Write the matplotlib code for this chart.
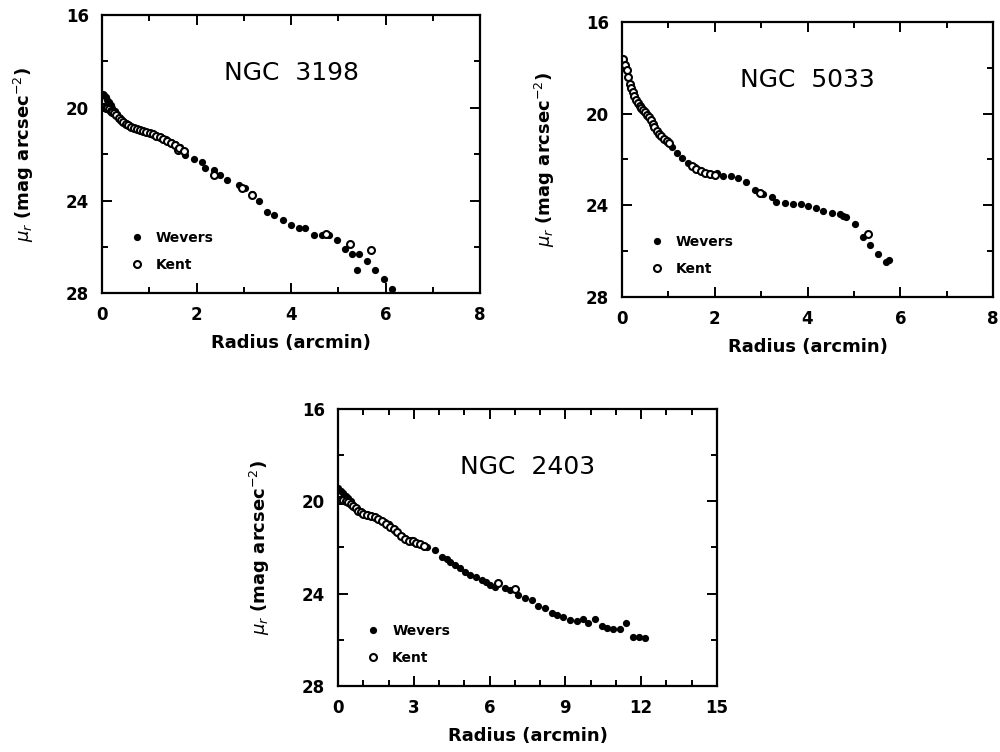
import matplotlib
matplotlib.use("Agg")
import matplotlib.pyplot as plt
from matplotlib.ticker import MultipleLocator

# NGC 3198 surface brightness profile (radius in arcmin, mu_r in mag/arcsec^2)
r_wev_3198 = [0.02, 0.05, 0.08, 0.11, 0.14, 0.18, 0.22, 0.27, 0.32, 0.38,
              0.44, 0.50, 0.57, 0.64, 0.72, 0.80, 0.88, 0.96, 1.05, 1.15,
              1.25, 1.35, 1.45, 1.55, 1.65, 1.76, 1.94, 2.12, 2.19, 2.36,
              2.50, 2.65, 2.89, 3.03, 3.17, 3.32, 3.49, 3.63, 3.84, 3.99,
              4.16, 4.30, 4.48, 4.66, 4.80, 4.97, 5.15, 5.29, 5.40, 5.43,
              5.60, 5.78, 5.96, 6.14]
mu_wev_3198 = [19.4, 19.45, 19.55, 19.65, 19.75, 19.88, 20.0, 20.15, 20.28, 20.42,
               20.55, 20.65, 20.74, 20.82, 20.88, 20.94, 20.98, 21.03, 21.1, 21.18,
               21.27, 21.36, 21.46, 21.56, 21.7, 22.04, 22.23, 22.33, 22.6, 22.7,
               22.9, 23.1, 23.34, 23.48, 23.7, 24.0, 24.5, 24.63, 24.85, 25.06,
               25.2, 25.2, 25.5, 25.5, 25.5, 25.7, 26.07, 26.3, 27.0, 26.3,
               26.6, 27.0, 27.37, 27.8]
r_kent_3198 = [0.02, 0.05, 0.08, 0.11, 0.14, 0.18, 0.22, 0.26, 0.30, 0.35,
               0.40, 0.45, 0.50, 0.56, 0.62, 0.68, 0.74, 0.80, 0.87, 0.94,
               1.01, 1.08, 1.15, 1.22, 1.30, 1.38, 1.46, 1.55, 1.60, 1.64,
               1.74, 2.36, 2.96, 3.17, 4.75, 5.25, 5.69]
mu_kent_3198 = [19.95, 19.97, 20.0, 20.03, 20.07, 20.12, 20.18, 20.24, 20.32, 20.42,
                20.52, 20.6, 20.68, 20.75, 20.82, 20.87, 20.91, 20.95, 21.0, 21.05,
                21.1, 21.15, 21.2, 21.27, 21.35, 21.42, 21.5, 21.6, 21.8, 21.72,
                21.85, 22.9, 23.44, 23.77, 25.45, 25.88, 26.15]

# NGC 5033
r_wev_5033 = [0.02, 0.05, 0.09, 1.07, 1.18, 1.29, 1.43, 1.57, 1.68, 1.85,
              2.04, 2.18, 2.36, 2.51, 2.67, 2.87, 3.05, 3.23, 3.33, 3.51,
              3.69, 3.87, 4.02, 4.18, 4.34, 4.52, 4.70, 4.76, 4.84, 5.02,
              5.19, 5.34, 5.51, 5.69, 5.76]
mu_wev_5033 = [17.6, 17.8, 18.05, 21.44, 21.7, 21.95, 22.16, 22.31, 22.46, 22.6,
               22.6, 22.72, 22.72, 22.82, 22.97, 23.33, 23.5, 23.62, 23.84, 23.88,
               23.94, 23.95, 24.05, 24.13, 24.23, 24.32, 24.38, 24.45, 24.52, 24.8,
               25.37, 25.73, 26.12, 26.46, 26.38]
r_kent_5033 = [0.03, 0.06, 0.10, 0.14, 0.17, 0.20, 0.23, 0.26, 0.30, 0.34,
               0.38, 0.42, 0.46, 0.50, 0.54, 0.58, 0.62, 0.66, 0.70, 0.75,
               0.80, 0.85, 0.90, 0.96, 1.02, 1.50, 1.60, 1.70, 1.80, 1.90,
               2.00, 2.97, 5.31]
mu_kent_5033 = [17.6, 17.9, 18.1, 18.4, 18.7, 18.9, 19.05, 19.25, 19.4, 19.55,
                19.65, 19.75, 19.85, 19.92, 20.05, 20.15, 20.3, 20.45, 20.6, 20.75,
                20.9, 21.0, 21.1, 21.2, 21.3, 22.3, 22.4, 22.5, 22.6, 22.65,
                22.7, 23.45, 25.25]

# NGC 2403
r_wev_2403 = [0.01, 0.1, 0.2, 0.3, 0.4, 0.5, 0.6, 0.7, 0.8, 0.9,
              1.0, 1.15, 1.27, 1.4, 1.53, 1.7, 1.86, 2.0, 2.12, 2.25,
              2.39, 2.52, 2.65, 2.92, 3.18, 3.51, 3.84, 4.1, 4.3, 4.43,
              4.63, 4.83, 5.02, 5.22, 5.45, 5.69, 5.85, 6.01, 6.2, 6.61,
              6.8, 7.13, 7.4, 7.66, 7.93, 8.19, 8.46, 8.66, 8.92, 9.18,
              9.45, 9.68, 9.91, 10.17, 10.44, 10.63, 10.9, 11.16, 11.39, 11.66,
              11.92, 12.15]
mu_wev_2403 = [19.44, 19.55, 19.65, 19.76, 19.87, 20.0, 20.16, 20.27, 20.38, 20.45,
               20.52, 20.57, 20.59, 20.65, 20.74, 20.8, 20.88, 21.0, 21.17, 21.28,
               21.39, 21.5, 21.6, 21.68, 21.82, 21.97, 22.11, 22.4, 22.5, 22.62,
               22.75, 22.9, 23.05, 23.19, 23.3, 23.41, 23.5, 23.63, 23.7, 23.77,
               23.85, 24.06, 24.2, 24.3, 24.54, 24.64, 24.83, 24.93, 25.03, 25.14,
               25.19, 25.09, 25.29, 25.1, 25.39, 25.5, 25.53, 25.55, 25.29, 25.9,
               25.9, 25.94]
r_kent_2403 = [0.02, 0.1, 0.2, 0.3, 0.4, 0.5, 0.6, 0.7, 0.8, 0.9,
               1.0, 1.15, 1.3, 1.45, 1.6, 1.75, 1.9, 2.05, 2.2, 2.35,
               2.5, 2.65, 2.8, 2.95, 3.1, 3.25, 3.4, 6.34, 7.0]
mu_kent_2403 = [19.95, 19.95, 19.95, 19.98, 20.05, 20.12, 20.2, 20.3, 20.4, 20.48,
                20.55, 20.6, 20.63, 20.7, 20.78, 20.87, 20.97, 21.1, 21.2, 21.35,
                21.5, 21.62, 21.7, 21.72, 21.8, 21.87, 21.95, 23.55, 23.8]

plt.rcParams['font.family'] = ['DejaVu Sans']
plt.rcParams['mathtext.fontset'] = 'dejavusans'


def draw_panel(ax, name, r_w, mu_w, r_k, mu_k, xmax, xstep):
    ax.plot(r_w, mu_w, 'o', color='black', ms=5.2, mew=0, label='Wevers')
    ax.plot(r_k, mu_k, 'o', mfc='white', mec='black', ms=5.0, mew=1.5, label='Kent')

    ax.set_xlim(0, xmax)
    ax.set_ylim(28, 16)
    ax.xaxis.set_major_locator(MultipleLocator(xstep))
    ax.xaxis.set_minor_locator(MultipleLocator(1))
    ax.yaxis.set_major_locator(MultipleLocator(4))
    ax.yaxis.set_minor_locator(MultipleLocator(2))
    ax.tick_params(which='both', direction='in', top=True, right=True, width=1.4)
    ax.tick_params(which='major', length=7, pad=9.5, labelsize=12)
    ax.tick_params(which='minor', length=4)
    for lab in ax.get_xticklabels() + ax.get_yticklabels():
        lab.set_fontweight('bold')
    for sp in ax.spines.values():
        sp.set_linewidth(1.6)

    ax.set_xlabel('Radius (arcmin)', fontsize=13, fontweight='bold', labelpad=7)
    ax.set_ylabel(r'$\mu_r$ (mag arcsec$^{-2}$)', fontsize=13, fontweight='bold')
    ax.yaxis.set_label_coords(-0.175, 0.5)

    ax.text(0.5, 0.79, name, transform=ax.transAxes, ha='center', va='center',
            fontsize=18)

    leg = ax.legend(loc='center left', bbox_to_anchor=(0.075, 0.15),
                    frameon=False, borderpad=0, borderaxespad=0,
                    handlelength=1.0, handletextpad=0.85, labelspacing=0.95,
                    prop={'size': 10, 'weight': 'bold'})
    return leg


fig = plt.figure(figsize=(10, 7.52), dpi=100)
ax1 = fig.add_axes([0.102, 0.610, 0.378, 0.370])
ax2 = fig.add_axes([0.622, 0.605, 0.371, 0.366])
ax3 = fig.add_axes([0.338, 0.088, 0.379, 0.368])

draw_panel(ax1, 'NGC  3198', r_wev_3198, mu_wev_3198, r_kent_3198, mu_kent_3198, 8, 2)
draw_panel(ax2, 'NGC  5033', r_wev_5033, mu_wev_5033, r_kent_5033, mu_kent_5033, 8, 2)
draw_panel(ax3, 'NGC  2403', r_wev_2403, mu_wev_2403, r_kent_2403, mu_kent_2403, 15, 3)

fig.savefig('out.png', dpi=100)
